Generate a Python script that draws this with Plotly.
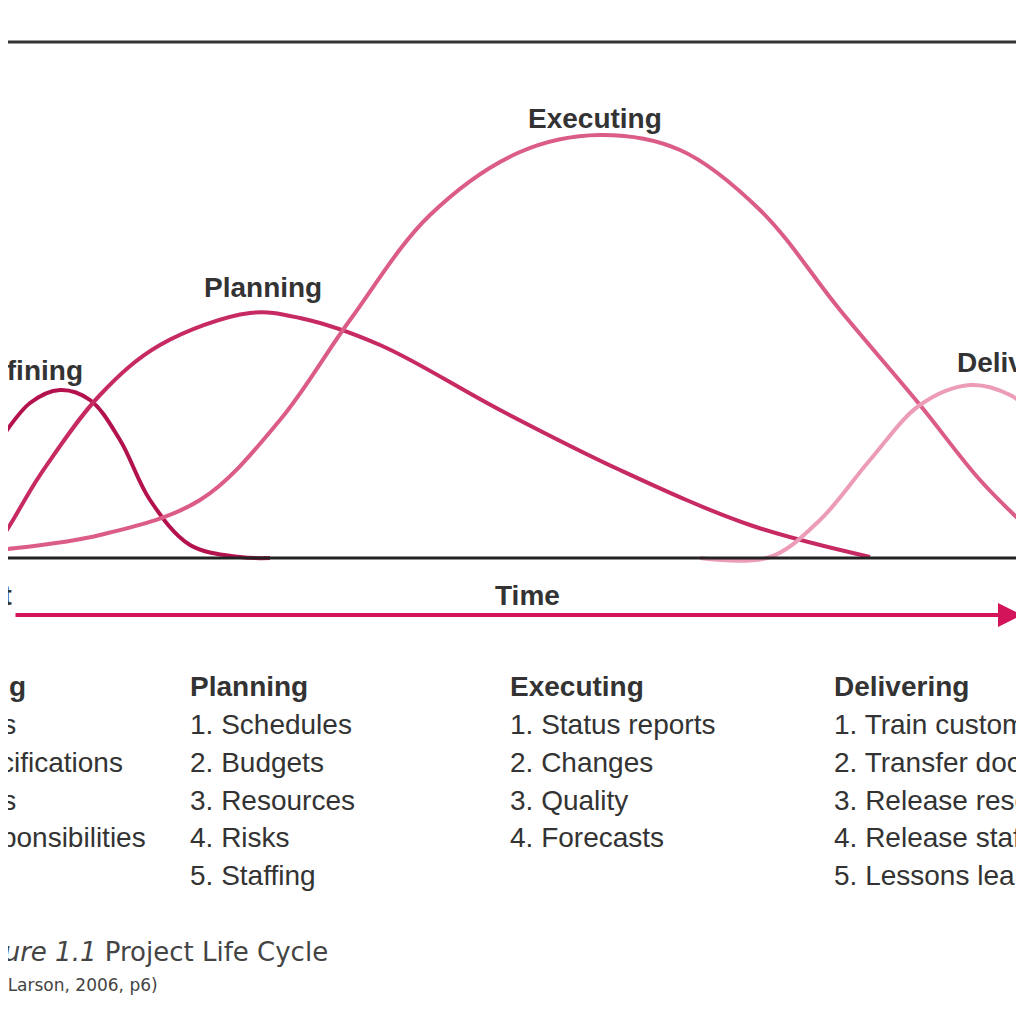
import plotly.graph_objects as go

# curve samples (pixel space, y downwards)
defining_x = [-20, 0, 30, 60, 90, 120, 150, 190, 240, 270]
defining_y = [470, 440, 403, 390, 400, 440, 500, 545, 557, 558]
planning_x = [-20, 0, 40, 100, 160, 250, 300, 380, 500, 620, 750, 870]
planning_y = [560, 540, 475, 395, 345, 313, 318, 345, 410, 470, 525, 557]
executing_x = [-20, 0, 100, 200, 280, 350, 430, 520, 600, 680, 760, 840, 920, 980, 1030]
executing_y = [552, 550, 535, 500, 420, 320, 215, 152, 135, 150, 210, 310, 405, 480, 530]
delivering_x = [700, 770, 820, 870, 920, 970, 1010, 1040]
delivering_y = [558, 557, 520, 460, 405, 385, 395, 420]

curve_names = ["Defining", "Planning", "Executing", "Delivering"]
curve_colors = ["#b3124e", "#c72a62", "#dc5c88", "#ec9cb8"]

phase_labels = [("Defining", 85, 370, "right"), ("Planning", 263, 287, "center"),
                ("Executing", 595, 118, "center"), ("Delivering", 955, 362, "left")]

planning_items = ["1. Schedules", "2. Budgets", "3. Resources", "4. Risks", "5. Staffing"]
executing_items = ["1. Status reports", "2. Changes", "3. Quality", "4. Forecasts"]
delivering_items = ["1. Train customers", "2. Transfer documents", "3. Release resources",
                    "4. Release staff", "5. Lessons learned"]
defining_items = ["1. Goals", "2. Specifications", "3. Tasks", "4. Responsibilities"]
defining_ends = [18, 125, 18, 148]

fig = go.Figure()
for xs, ys, c in zip([defining_x, planning_x, executing_x, delivering_x],
                     [defining_y, planning_y, executing_y, delivering_y], curve_colors):
    fig.add_trace(go.Scatter(x=xs, y=ys, mode="lines", line=dict(color=c, width=4, shape="spline"),
                             hoverinfo="skip", showlegend=False))

font = dict(family="Liberation Sans, Arial", size=28, color="#333333")
bold = dict(family="Liberation Sans, Arial", size=28, color="#333333", weight="bold")

for txt, x, y, anc in phase_labels:
    fig.add_annotation(x=x, y=y, text="<b>%s</b>" % txt, xanchor=anc, showarrow=False, font=bold)

# box
fig.add_shape(type="line", x0=-10, x1=1044, y0=42, y1=42, line=dict(color="#333", width=3))
fig.add_shape(type="line", x0=-10, x1=1044, y0=558, y1=558, line=dict(color="#222", width=3))

# time arrow
fig.add_annotation(x=1022, y=615, ax=14, ay=615, axref="x", ayref="y", xref="x", yref="y",
                   text="", showarrow=True, arrowhead=2, arrowsize=1.2, arrowwidth=4,
                   arrowcolor="#d4145a")
fig.add_annotation(x=527, y=595, text="<b>Time</b>", showarrow=False, font=bold)
fig.add_annotation(x=14, y=595, text="<b>Start</b>", xanchor="right", showarrow=False, font=bold)

row_y = [724, 762, 800, 837, 875]
fig.add_annotation(x=28, y=686, text="<b>Defining</b>", xanchor="right", showarrow=False, font=bold)
for t, e, y in zip(defining_items, defining_ends, row_y):
    fig.add_annotation(x=e, y=y, text=t, xanchor="right", showarrow=False, font=font)
for head, items, x in [("Planning", planning_items, 188), ("Executing", executing_items, 508),
                       ("Delivering", delivering_items, 832)]:
    fig.add_annotation(x=x, y=686, text="<b>%s</b>" % head, xanchor="left", showarrow=False, font=bold)
    for t, y in zip(items, row_y):
        fig.add_annotation(x=x, y=y, text=t, xanchor="left", showarrow=False, font=font)

fig.add_annotation(x=330, y=952, text="<i>Figure 1.1</i> Project Life Cycle", xanchor="right",
                   showarrow=False, font=dict(family="DejaVu Sans", size=26, color="#444"))
fig.add_annotation(x=160, y=985, text="(Larson, 2006, p6)", xanchor="right",
                   showarrow=False, font=dict(family="DejaVu Sans", size=17, color="#444"))

# page body margin offsets the plot by ~8px, so shift the view to compensate
fig.update_xaxes(range=[8, 1032], visible=False)
fig.update_yaxes(range=[1032, 8], visible=False)
fig.update_layout(width=1024, height=1024, margin=dict(l=0, r=0, t=0, b=0),
                  plot_bgcolor="white", paper_bgcolor="white")
fig.write_html("out.html")
